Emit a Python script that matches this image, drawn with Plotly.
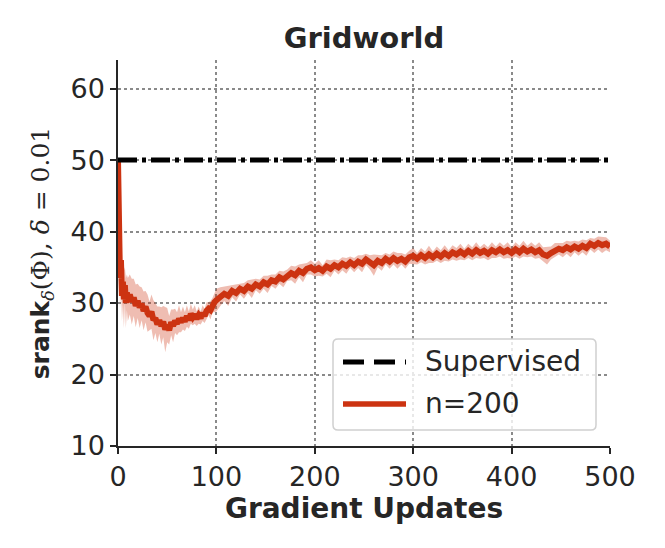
import plotly.graph_objects as go

# ---------------- data ----------------
steps = list(range(0, 11)) + list(range(12, 101, 2)) + list(range(104, 501, 4))
mean_rank = [
    50.0, 37.5, 33.5, 36.0, 31.0, 33.0, 30.5, 32.5, 30.0, 31.5, 30.5,
    31.2, 30.2, 30.8, 29.6, 30.3, 29.4, 29.9, 28.9, 29.5, 28.6,
    28.2, 28.8, 27.6, 27.9, 27.0, 27.6, 26.8, 27.4, 26.3, 26.9,
    26.2, 27.3, 26.8, 27.5, 27.1, 27.8, 27.3, 27.9, 27.4, 28.2,
    27.6, 28.5, 28.0, 28.4, 27.8, 28.3, 27.9, 28.6, 28.2, 28.9,
    29.2, 29.0, 29.7, 30.1, 30.4,
    30.9, 31.3, 31.0, 31.7, 31.4, 32.0, 31.7, 32.3, 32.0, 32.6,
    32.3, 32.9, 32.6, 33.2, 33.0, 33.6, 33.3, 33.9, 34.2, 33.9,
    34.5, 34.2, 34.8, 35.0, 34.6, 34.9, 34.5, 35.1, 34.8, 35.3,
    35.0, 35.5, 35.2, 35.7, 35.3, 35.8, 35.5, 36.1, 35.7, 35.3,
    35.9, 35.6, 36.2, 35.8, 36.3, 35.9, 36.2, 35.8, 36.4, 36.6,
    36.2, 36.7, 36.3, 36.8, 36.4, 36.9, 36.5, 37.0, 36.6, 37.1,
    36.8, 37.2, 36.8, 37.3, 36.9, 37.4, 37.0, 37.3, 36.9, 37.4,
    37.1, 37.5, 37.1, 37.4, 37.0, 37.5, 37.1, 37.6, 37.2, 37.5,
    37.1, 37.4, 36.8, 36.6, 37.0, 37.4, 37.6, 37.4, 37.8, 37.5,
    37.9, 37.6, 38.0, 37.7, 38.3, 38.0, 38.4, 38.1, 38.3, 37.9,
]
std_rank = [
    0.0, 2.0, 4.5, 3.0, 3.5, 3.0, 4.0, 2.5, 3.5, 2.5, 3.0,
    2.8, 3.2, 2.6, 3.0, 2.4, 2.9, 2.3, 2.7, 2.2, 2.6,
    2.0, 2.4, 2.8, 2.1, 2.5, 1.9, 2.6, 2.2, 3.2, 2.4,
    2.0, 1.8, 2.3, 1.7, 1.6, 1.9, 1.4, 1.6, 1.3, 1.5,
    1.2, 1.4, 1.1, 1.3, 1.0, 1.2, 0.9, 1.1, 1.0, 1.2,
    0.9, 1.3, 1.0, 1.4, 1.6,
    1.3, 1.0, 1.4, 0.9, 1.2, 0.8, 1.1, 0.9, 1.3, 0.8,
    1.0, 0.9, 1.2, 0.8, 1.0, 0.9, 1.1, 0.8, 1.0, 1.2,
    0.9, 1.3, 0.8, 1.0, 0.9, 1.1, 0.8, 1.0, 1.2, 0.8,
    1.0, 0.9, 1.1, 0.8, 1.0, 0.9, 1.2, 0.8, 1.0, 1.5,
    0.9, 1.1, 0.8, 1.0, 0.9, 1.1, 0.8, 1.0, 0.9, 1.1,
    0.8, 1.0, 0.9, 1.2, 0.8, 1.0, 0.9, 1.1, 0.8, 1.0,
    0.9, 1.1, 0.8, 1.0, 0.9, 1.1, 0.8, 1.0, 0.9, 1.1,
    0.8, 1.0, 0.9, 1.1, 0.8, 1.0, 0.9, 1.1, 0.8, 1.0,
    0.9, 1.1, 1.0, 1.2, 0.9, 1.0, 0.8, 1.0, 0.9, 1.1,
    0.8, 1.0, 0.9, 1.1, 0.8, 1.0, 0.9, 1.1, 0.9, 0.8,
]
assert len(steps) == len(mean_rank) == len(std_rank), (len(steps), len(mean_rank), len(std_rank))

supervised_x = [0, 500]
supervised_y = [50, 50]
x_ticks = [0, 100, 200, 300, 400, 500]
y_ticks = [10, 20, 30, 40, 50, 60]
legend_labels = ["Supervised", "n=200"]

upper = [m + s for m, s in zip(mean_rank, std_rank)]
lower = [m - s for m, s in zip(mean_rank, std_rank)]

RED = "rgb(204,51,17)"
BAND = "rgba(204,51,17,0.32)"
TXT = "#262626"
FONT = "DejaVu Sans"

fig = go.Figure()
fig.add_trace(go.Scatter(x=steps, y=upper, mode="lines", line=dict(width=0, color=BAND),
                         showlegend=False, hoverinfo="skip"))
fig.add_trace(go.Scatter(x=steps, y=lower, mode="lines", line=dict(width=0, color=BAND),
                         fill="tonexty", fillcolor=BAND, showlegend=False, hoverinfo="skip"))
fig.add_trace(go.Scatter(x=steps, y=mean_rank, mode="lines", name=legend_labels[1],
                         line=dict(color=RED, width=6), showlegend=False))
fig.add_trace(go.Scatter(x=supervised_x, y=supervised_y, mode="lines", name=legend_labels[0],
                         line=dict(color="black", width=5, dash="19px,5px,4px,5px"),
                         showlegend=False))

axis_common = dict(
    showline=True, linecolor=TXT, linewidth=1.5,
    ticks="outside", ticklen=6, tickwidth=1.5, tickcolor=TXT,
    showgrid=True, gridcolor="#8a8a8a", gridwidth=1.5, griddash="dot",
    zeroline=False, mirror=False, automargin=False,
    tickfont=dict(family=FONT, size=27, color=TXT),
)

fig.update_xaxes(range=[0, 500], tickvals=x_ticks,
                 title=dict(text="<b>Gradient Updates</b>",
                            font=dict(family=FONT, size=28, color=TXT), standoff=4),
                 **axis_common)
fig.update_yaxes(range=[10, 64], tickvals=y_ticks,
                 title=dict(text='<b>srank</b><span style="font-family:DejaVu Serif">'
                                 '<sub><i>δ</i></sub>(Φ), <i>δ</i> = 0.01</span>',
                            font=dict(family=FONT, size=25, color=TXT), standoff=14),
                 **axis_common)

# ---- hand-built legend (matplotlib style, rounded frame) ----
W, H = 492.0, 386.0          # plot area size in px
def px(xp):  # pixel (reference picture) -> paper x
    return (xp - 118) / W
def py(yp):  # pixel (reference picture) -> paper y
    return (446 - yp) / H

x0, x1, y0, y1 = px(333), px(596), py(430), py(339)
rx, ry = 5 / W, 5 / H
frame = (f"M{x0+rx},{y0} L{x1-rx},{y0} Q{x1},{y0} {x1},{y0+ry} L{x1},{y1-ry} "
         f"Q{x1},{y1} {x1-rx},{y1} L{x0+rx},{y1} Q{x0},{y1} {x0},{y1-ry} "
         f"L{x0},{y0+ry} Q{x0},{y0} {x0+rx},{y0} Z")
fig.add_shape(type="path", path=frame, xref="paper", yref="paper",
              fillcolor="rgba(255,255,255,0.8)", line=dict(color="#d0d0d0", width=1.5))
fig.add_shape(type="line", xref="paper", yref="paper", x0=px(343), x1=px(406),
              y0=py(362), y1=py(362), line=dict(color="black", width=5, dash="21px,10px"))
fig.add_shape(type="line", xref="paper", yref="paper", x0=px(343), x1=px(406),
              y0=py(404), y1=py(404), line=dict(color=RED, width=5.5))
for lbl, yy in zip(legend_labels, [361, 403]):
    fig.add_annotation(text=lbl, xref="paper", yref="paper", x=px(423), y=py(yy),
                       xanchor="left", yanchor="middle", showarrow=False,
                       font=dict(family=FONT, size=28, color=TXT))

# page body adds an 8px offset, so margins are shifted by 8px
fig.update_layout(
    width=665, height=548,
    margin=dict(l=110, r=63, t=52, b=110),
    plot_bgcolor="white", paper_bgcolor="white",
    title=dict(text="<b>Gridworld</b>", font=dict(family=FONT, size=29, color=TXT),
               x=0.5, xref="paper", xanchor="center",
               y=1 - 30 / 548, yref="container", yanchor="middle"),
    showlegend=False,
)

fig.write_html("out.html")
